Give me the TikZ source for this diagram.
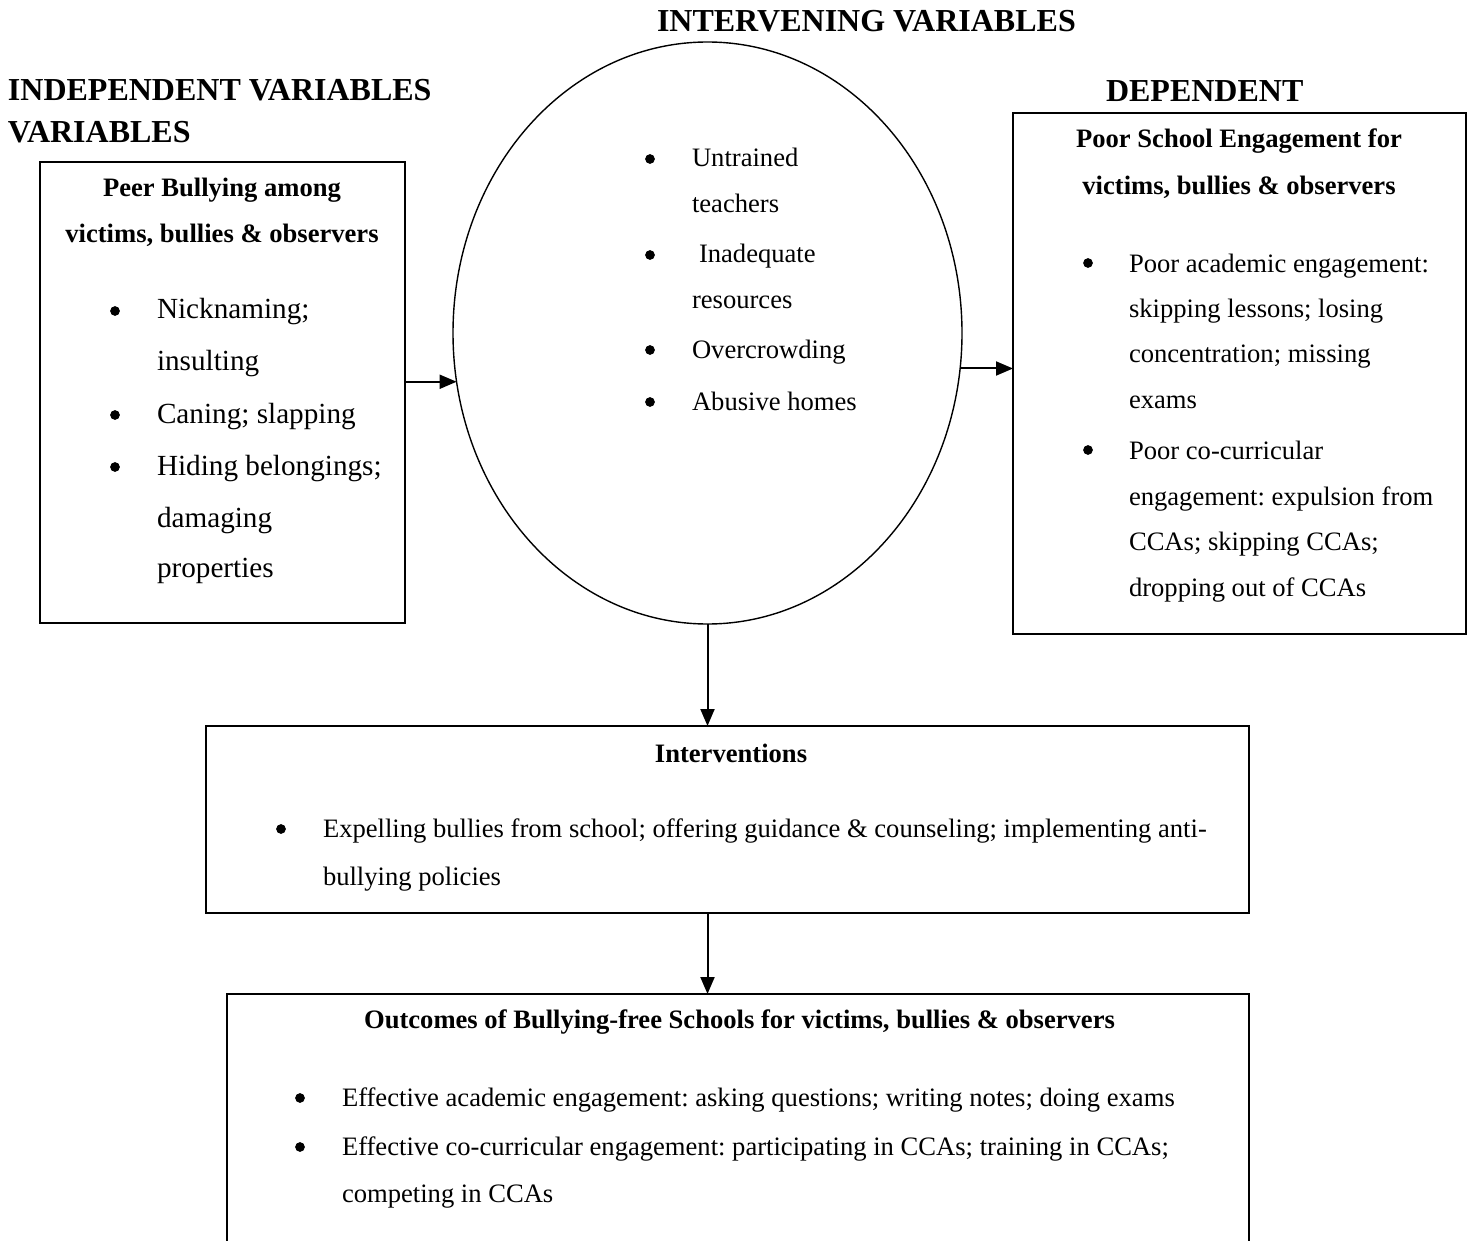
\documentclass[tikz,border=0pt]{standalone}
\usepackage{fontspec}
\setmainfont{Liberation Serif}
\usetikzlibrary{shapes.geometric,arrows.meta}
\frenchspacing
\newcommand\fbody{\fontsize{13.3pt}{16pt}\selectfont}
\newcommand\fleft{\fontsize{14.6pt}{17pt}\selectfont}
\newcommand\ftitle{\fontsize{16pt}{19pt}\selectfont\bfseries}
\newcommand\fhead{\fontsize{13.3pt}{16pt}\selectfont\bfseries}
\begin{document}
\begin{tikzpicture}[x=0.5pt,y=-0.5pt,
  boxshape/.style={draw, line width=1pt, rectangle, inner sep=0pt, outer sep=0pt},
  ellshape/.style={draw, line width=0.7pt, ellipse, inner sep=0pt, outer sep=0pt},
  tx/.style={anchor=base west, inner sep=0pt, outer sep=0pt, font=\fbody},
  txl/.style={anchor=base west, inner sep=0pt, outer sep=0pt, font=\fleft},
  ttl/.style={anchor=base west, inner sep=0pt, outer sep=0pt, font=\ftitle},
  hd/.style={anchor=base, inner sep=0pt, outer sep=0pt, font=\fhead},
  bul/.style={circle, fill=black, draw=black, line width=0.3pt, inner sep=0pt, minimum size=4.5pt},
  arr/.style={line width=1pt, -{Triangle[length=8.5pt,width=7pt]}}]
\useasboundingbox (0,0) rectangle (1472,1241);
\clip (0,0) rectangle (1472,1241);

% titles
\node[ttl] (t1) at (657,32) {INTERVENING VARIABLES};
\node[ttl] (t2) at (8,101) {INDEPENDENT VARIABLES};
\node[ttl] (t3) at (8,143) {VARIABLES};
\node[ttl] (t4) at (1106,102) {DEPENDENT};

% shapes
\node[boxshape, minimum width=182.5pt, minimum height=230.5pt] (lb) at (222.5,392.5) {};
\node[ellshape, minimum width=254.5pt, minimum height=291pt] (ell) at (707.5,333) {};
\node[boxshape, minimum width=226.5pt, minimum height=260.5pt] (rb) at (1239.5,373.5) {};
\node[boxshape, minimum width=521.5pt, minimum height=93.5pt] (ib) at (727.5,819.5) {};
\node[boxshape, minimum width=511pt, minimum height=143pt] (ob) at (738,1137) {};

% left box
\node[hd] (lh1) at (222,197) {Peer Bullying among};
\node[hd] (lh2) at (222,243) {victims, bullies \& observers};
\node[bul] (lbu1) at (115,311) {};
\node[bul] (lbu2) at (115,415) {};
\node[bul] (lbu3) at (115,467) {};
\node[txl] (l1) at (157,319) {Nicknaming;};
\node[txl] (l2) at (157,370) {insulting};
\node[txl] (l3) at (157,423) {Caning; slapping};
\node[txl] (l4) at (157,475) {Hiding belongings;};
\node[txl] (l5) at (157,527) {damaging};
\node[txl] (l6) at (157,577) {properties};

% ellipse
\node[bul] (ebu1) at (650,159) {};
\node[bul] (ebu2) at (650,255) {};
\node[bul] (ebu3) at (650,350) {};
\node[bul] (ebu4) at (650,402) {};
\node[tx] (e1) at (692,167) {Untrained};
\node[tx] (e2) at (692,213) {teachers};
\node[tx] (e3) at (699,263) {Inadequate};
\node[tx] (e4) at (692,308) {resources};
\node[tx] (e5) at (692,358) {Overcrowding};
\node[tx] (e6) at (692,410) {Abusive homes};

% right box
\node[hd] (rh1) at (1239,148) {Poor School Engagement for};
\node[hd] (rh2) at (1239,195) {victims, bullies \& observers};
\node[bul] (rbu1) at (1088,263) {};
\node[bul] (rbu2) at (1088,450) {};
\node[tx] (r1) at (1129,272) {Poor academic engagement:};
\node[tx] (r2) at (1129,317) {skipping lessons; losing};
\node[tx] (r3) at (1129,362) {concentration; missing};
\node[tx] (r4) at (1129,408) {exams};
\node[tx] (r5) at (1129,459) {Poor co-curricular};
\node[tx] (r6) at (1129,505) {engagement: expulsion from};
\node[tx] (r7) at (1129,550) {CCAs; skipping CCAs;};
\node[tx] (r8) at (1129,596) {dropping out of CCAs};

% interventions
\node[hd] (ih) at (731,762) {Interventions};
\node[bul] (ibu1) at (281,829) {};
\node[tx] (i1) at (323,837) {Expelling bullies from school; offering guidance \& counseling; implementing anti-};
\node[tx] (i2) at (323,885) {bullying policies};

% outcomes
\node[hd] (oh) at (739.5,1028) {Outcomes of Bullying-free Schools for victims, bullies \& observers};
\node[bul] (obu1) at (300,1098) {};
\node[bul] (obu2) at (300,1147) {};
\node[tx] (o1) at (342,1106) {Effective academic engagement: asking questions; writing notes; doing exams};
\node[tx] (o2) at (342,1155) {Effective co-curricular engagement: participating in CCAs; training in CCAs;};
\node[tx] (o3) at (342,1202) {competing in CCAs};

% connectors
\draw[arr] (lb.east |- ell.191.28) -- (ell.191.28);
\draw[arr] (ell.-8.79) -- (ell.-8.79 -| rb.west);
\draw[arr] (ell.south) -- (ell.south |- ib.north);
\draw[arr] (ib.south -| ell.south) -- (ell.south |- ob.north);
\end{tikzpicture}
\end{document}
